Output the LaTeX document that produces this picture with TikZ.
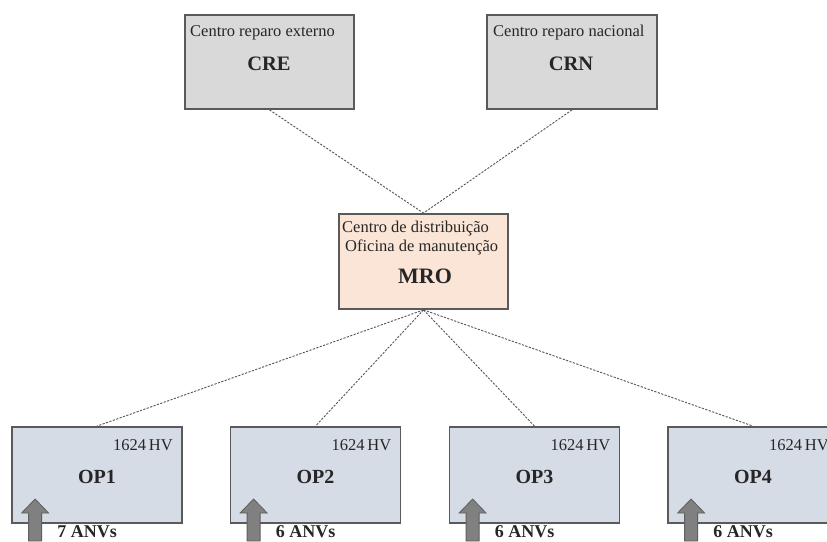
\documentclass[tikz,border=0pt]{standalone}
\usepackage{fontspec}
\setmainfont{Liberation Serif}
\definecolor{boxline}{HTML}{5A5A5A}
\definecolor{grayfill}{HTML}{D9D9D9}
\definecolor{peach}{HTML}{FBE5D6}
\definecolor{opfill}{HTML}{D6DCE5}
\definecolor{conn}{HTML}{555555}
\definecolor{arrfill}{HTML}{808080}
\definecolor{arrline}{HTML}{5F5F5F}
\begin{document}
\begin{tikzpicture}[x=1pt,y=-1pt,
  boxnode/.style={draw=boxline, line width=1.8pt, minimum width=#1, minimum height=94pt, inner sep=0pt},
  boxnode/.default=169pt,
  small/.style={font=\fontsize{16.5}{19}\selectfont, inner sep=0pt, text=black!85},
  big/.style={font=\fontsize{20}{24}\selectfont\bfseries, inner sep=0pt, text=black!85},
  conline/.style={draw=conn, line width=0.9pt, dash pattern=on 2.2pt off 1.4pt},
  uparr/.style={fill=arrfill, draw=arrline, line width=0.8pt}
]
\clip (0,0) rectangle (827,541);
\fill[white] (0,0) rectangle (827,541);

% top boxes
\node[boxnode, fill=grayfill] (cre) at (269.5,62) {};
\node[boxnode=170pt, fill=grayfill] (crn) at (572,62) {};
\node[small, anchor=base west] (crelbl) at (190,36) {Centro reparo externo};
\node[big, font=\fontsize{20.5}{24}\selectfont\bfseries, anchor=base] (cretxt) at (269,70) {CRE};
\node[small, anchor=base west] (crnlbl) at (493,36) {Centro reparo nacional};
\node[big, font=\fontsize{20.5}{24}\selectfont\bfseries, anchor=base] (crntxt) at (571,70) {CRN};

% MRO
\node[boxnode, minimum height=95pt, fill=peach] (mro) at (423.5,261.5) {};
\node[small, anchor=base west] (mrol1) at (342,232) {Centro de distribuição};
\node[small, anchor=base west] (mrol2) at (345,251) {Oficina de manutenção};
\node[big, font=\fontsize{22}{26}\selectfont\bfseries, anchor=base] (mrotxt) at (425,283) {MRO};

% OP boxes
\foreach \i/\cx/\n in {1/97/7, 2/315.5/6, 3/534.5/6, 4/753/6}{
  \node[boxnode=170pt, minimum height=96pt, fill=opfill] (op\i) at (\cx,475) {};
  \node[small, anchor=base east] (hv\i) at ([xshift=-10pt]op\i.east |- 0,450) {1624\,HV};
  \node[big, anchor=base] (optxt\i) at (\cx,483) {OP\i};
  \coordinate (ab\i) at ([xshift=24pt]op\i.west |- 0,541);
  \path[uparr] ([xshift=-6.5pt]ab\i) -- ++(0,-28) -- ++(-7,0) -- ++(13.5,-14) -- ++(13.5,14) -- ++(-7,0) -- ++(0,28) -- cycle;
  \node[big, font=\fontsize{18}{20}\selectfont\bfseries, anchor=base west] (anv\i) at ([xshift=46pt]op\i.west |- 0,537) {\n\ ANVs};
}

% connectors
\draw[conline] (cre.south) -- (mro.north);
\draw[conline] (crn.south) -- (mro.north);
\foreach \i in {1,2,3,4}{
  \draw[conline] (mro.south) -- (op\i.north);
}
\end{tikzpicture}
\end{document}
